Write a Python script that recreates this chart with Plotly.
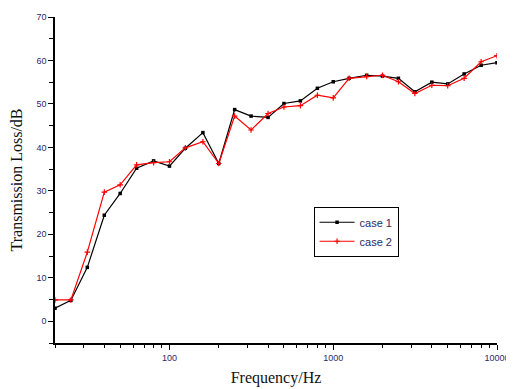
import plotly.graph_objects as go

freq = [20, 25, 31.5, 40, 50, 63, 80, 100, 125, 160, 200, 250, 315, 400, 500,
        630, 800, 1000, 1250, 1600, 2000, 2500, 3150, 4000, 5000, 6300, 8000, 10000]
case1 = [3.0, 4.8, 12.4, 24.4, 29.4, 35.2, 36.9, 35.7, 39.8, 43.4, 36.3, 48.7, 47.2, 46.9,
         50.1, 50.7, 53.6, 55.1, 55.9, 56.6, 56.4, 55.9, 52.8, 55.0, 54.6, 56.9, 58.9, 59.5]
case2 = [4.9, 4.9, 15.9, 29.7, 31.4, 36.0, 36.5, 36.7, 39.9, 41.3, 36.3, 47.2, 44.0, 47.8,
         49.3, 49.6, 52.0, 51.4, 55.9, 56.3, 56.6, 55.1, 52.4, 54.3, 54.2, 55.9, 59.7, 61.1]
series_names = ["case 1", "case 2"]
x_major = [100, 1000, 10000]
x_minor = [m * d for d in (10, 100, 1000) for m in range(2, 10)]
y_ticks = [0, 10, 20, 30, 40, 50, 60, 70]

tick_font = dict(family="Liberation Sans, Arial", size=9, color="#2a2a66")
title_font = dict(family="Liberation Serif, Times New Roman", size=16, color="#111")

fig = go.Figure()
fig.add_trace(go.Scatter(
    x=freq, y=case1, name=series_names[0], mode="lines+markers",
    line=dict(color="black", width=1.2),
    marker=dict(symbol="square", size=3.5, color="black")))
fig.add_trace(go.Scatter(
    x=freq, y=case2, name=series_names[1], mode="lines+markers",
    line=dict(color="red", width=1.2),
    marker=dict(symbol="cross-thin", size=4, color="red",
                line=dict(color="red", width=1.2))))

# the page body adds an 8px offset; margins compensate for it
fig.update_layout(
    width=514, height=389,
    margin=dict(l=47, r=25, t=9, b=54),
    paper_bgcolor="white", plot_bgcolor="white",
    showlegend=True,
    legend=dict(x=0.585, y=0.418, xanchor="left", yanchor="top",
                bgcolor="white", bordercolor="black", borderwidth=1,
                font=dict(family="Liberation Sans, Arial", size=11, color="#2a2a66"),
                itemwidth=35, tracegroupgap=0),
)
fig.update_xaxes(
    type="log", range=[1.301, 4.0], automargin=False,
    showline=True, linecolor="black", linewidth=1.5, mirror=False,
    showgrid=False, zeroline=False,
    tickmode="array", tickvals=x_major, ticktext=[str(v) for v in x_major],
    ticks="outside", ticklen=5, tickwidth=1.2, tickcolor="black",
    tickfont=tick_font,
    minor=dict(tickmode="array", tickvals=x_minor, ticks="outside",
               ticklen=3, tickwidth=1, tickcolor="black", showgrid=False),
    title=dict(text="Frequency/Hz", font=title_font, standoff=10),
)
fig.update_yaxes(
    range=[-5, 70], automargin=False,
    showline=True, linecolor="black", linewidth=1.5, mirror=False,
    showgrid=False, zeroline=False,
    tickmode="array", tickvals=y_ticks,
    ticks="outside", ticklen=5, tickwidth=1.2, tickcolor="black",
    tickfont=tick_font,
    minor=dict(dtick=5, ticks="outside", ticklen=4, tickwidth=1,
               tickcolor="black", showgrid=False),
    title=dict(text="Transmission Loss/dB", font=title_font, standoff=12),
)

fig.write_html("out.html")
